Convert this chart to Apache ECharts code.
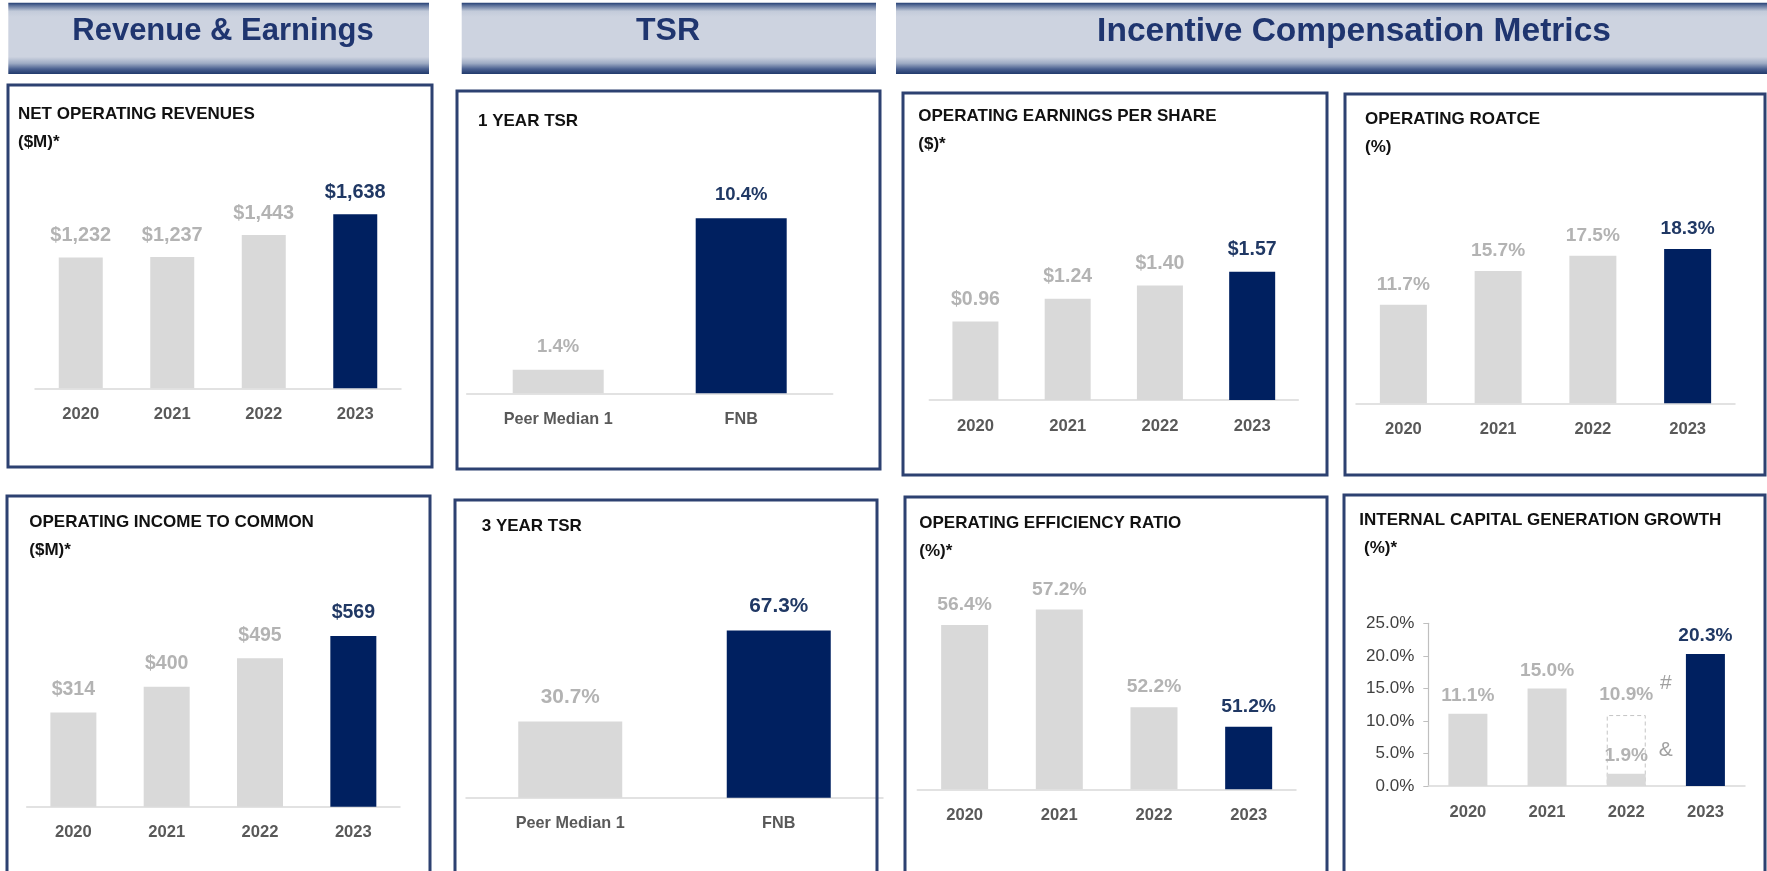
<!DOCTYPE html>
<html><head><meta charset="utf-8">
<script src="https://cdn.jsdelivr.net/npm/echarts@6/dist/echarts.min.js"></script>
<style>html,body{margin:0;padding:0;background:#fff}#c{width:1767px;height:871px}</style>
</head><body><div id="c"></div><script>
// ---------------- DATA ----------------
const years = ['2020', '2021', '2022', '2023'];
const tsrCategories = ['Peer Median 1', 'FNB'];
const netOperatingRevenues = [1232, 1237, 1443, 1638];
const operatingIncomeToCommon = [314, 400, 495, 569];
const tsr1Year = [1.4, 10.4];
const tsr3Year = [30.7, 67.3];
const operatingEps = [0.96, 1.24, 1.40, 1.57];
const operatingRoatce = [11.7, 15.7, 17.5, 18.3];
const operatingEfficiencyRatio = [56.4, 57.2, 52.2, 51.2];
const internalCapitalGrowth = [11.1, 15.0, 1.9, 20.3];
const internalCapitalGrowthReported = [null, null, 10.9, null];
const headerTexts = ['Revenue & Earnings', 'TSR', 'Incentive Compensation Metrics'];
const panelTitles = [
  'NET OPERATING REVENUES\n($M)*',
  '1 YEAR TSR',
  'OPERATING INCOME TO COMMON\n($M)*',
  '3 YEAR TSR',
  'OPERATING EARNINGS PER SHARE\n($)*',
  'OPERATING ROATCE\n(%)',
  'OPERATING EFFICIENCY RATIO\n(%)*',
  'INTERNAL CAPITAL GENERATION GROWTH\n (%)*'
];
const annotationMarks = ['#', '&'];

// ---------------- STYLE ----------------
function hasFont(name) {
  const c = document.createElement('canvas').getContext('2d');
  const s = 'abcdefghijklmnopqrstuvwxyzWM0123456789';
  c.font = '40px monospace'; const w0 = c.measureText(s).width;
  c.font = '40px "' + name + '", monospace'; const w1 = c.measureText(s).width;
  return Math.abs(w0 - w1) > 0.5;
}
const NARROW_OK = hasFont('Liberation Sans Narrow');
const NARROW = NARROW_OK ? 'Liberation Sans Narrow' : 'Liberation Sans';
const NS = NARROW_OK ? 1 : 0.83;
const SANS = 'Liberation Sans';
const NAVY = '#002060', GRAY = '#d9d9d9', NAVY_T = '#203864', GRAY_T = '#b3b3b3', AXIS_T = '#595959';

const fmtMoney0 = v => '$' + v.toLocaleString('en-US');
const fmtMoney2 = v => '$' + v.toFixed(2);
const fmtPct = v => v.toFixed(1) + '%';

const panels = [
  { cats: years, vals: netOperatingRevenues, hi: 3, fmt: fmtMoney0, grid: {left: 35, top: 175.9, width: 366, height: 212.4}, min: 0, max: 2000, bw: 44, ld: 11.5, lf: NARROW, ls: 24 * NS, xf: NARROW, xs: 20 * NS, title: {left: 18, top: 100} },
  { cats: tsrCategories, vals: tsr1Year, hi: 1, fmt: fmtPct, grid: {left: 466.7, top: 191.3, width: 366, height: 202}, min: 0, max: 12, bw: 91, ld: 13.5, lf: SANS, ls: 18.5, xf: SANS, xs: 16.2, title: {left: 478, top: 107.7} },
  { cats: years, vals: operatingIncomeToCommon, hi: 3, fmt: fmtMoney0, grid: {left: 26.7, top: 596.7, width: 373.3, height: 210}, min: 0, max: 700, bw: 46, ld: 13, lf: NARROW, ls: 23.5 * NS, xf: NARROW, xs: 20 * NS, title: {left: 29.3, top: 508.7} },
  { cats: tsrCategories, vals: tsr3Year, hi: 1, fmt: fmtPct, grid: {left: 466, top: 598.9, width: 417, height: 198.8}, min: 0, max: 80, bw: 104, ld: 14, lf: SANS, ls: 20.8, xf: SANS, xs: 16.2, title: {left: 481.7, top: 512.7} },
  { cats: years, vals: operatingEps, hi: 3, fmt: fmtMoney2, grid: {left: 929.3, top: 236.6, width: 369, height: 163.4}, min: 0, max: 2, bw: 46, ld: 12, lf: NARROW, ls: 23.5 * NS, xf: NARROW, xs: 20 * NS, title: {left: 918.3, top: 102.7} },
  { cats: years, vals: operatingRoatce, hi: 3, fmt: fmtPct, grid: {left: 1356, top: 234.7, width: 379, height: 168.6}, min: 0, max: 20, bw: 47, ld: 10.5, lf: NARROW, ls: 23 * NS, xf: NARROW, xs: 20 * NS, title: {left: 1365, top: 105.3} },
  { cats: years, vals: operatingEfficiencyRatio, hi: 3, fmt: fmtPct, grid: {left: 917.3, top: 593.8, width: 378.7, height: 195.5}, min: 48, max: 58, bw: 47, ld: 10.7, lf: NARROW, ls: 23.2 * NS, xf: NARROW, xs: 20 * NS, title: {left: 919.3, top: 509.3} },
  { cats: years, vals: internalCapitalGrowth, hi: 3, fmt: fmtPct, grid: {left: 1428.3, top: 623.3, width: 316.7, height: 162.7}, min: 0, max: 25, bw: 39, ld: 8.5, lf: NARROW, ls: 23 * NS, xf: NARROW, xs: 20 * NS, title: {left: 1359.3, top: 506}, yAxisShown: true }
];

const boxes = [
  [8, 85, 424, 382], [457, 91, 423, 378], [7, 496, 423, 420], [455, 500, 422, 420],
  [903, 93, 424, 382], [1345, 94, 420, 381], [905, 497, 422, 420], [1344, 495, 421, 420]
];
const headerBands = [[8.3, 2.7, 420.7, 71.3], [461.7, 2.7, 414.3, 71.3], [896, 2.7, 880, 71.3]];
const headerCenters = [[223, 31.5], [668, 31.5], [1354, 31.5]];
const headerSizes = [31, 32, 33.5];

// ---------------- BUILD ----------------
const grids = [], xAxes = [], yAxes = [], series = [], titles = [];
panels.forEach((p, i) => {
  grids.push(Object.assign({containLabel: false}, p.grid));
  xAxes.push({
    type: 'category', gridIndex: i, data: p.cats,
    axisLine: {show: true, onZero: false, lineStyle: {color: '#d9d9d9', width: 1.5}},
    axisTick: {show: false},
    axisLabel: {margin: 26 - p.xs / 2, color: AXIS_T, fontFamily: p.xf, fontWeight: 'bold', fontSize: p.xs, interval: 0}
  });
  const y = {type: 'value', gridIndex: i, min: p.min, max: p.max, splitLine: {show: false}};
  if (p.yAxisShown) {
    Object.assign(y, {
      interval: 5, show: true,
      axisLine: {show: true, onZero: false, lineStyle: {color: '#bfbfbf', width: 1.2}},
      axisTick: {show: true, length: 5, lineStyle: {color: '#bfbfbf'}},
      axisLabel: {show: true, margin: 14, formatter: v => v.toFixed(1) + '%', color: '#404040', fontFamily: SANS, fontSize: 17}
    });
  } else {
    y.show = false;
  }
  yAxes.push(y);
  if (i === 7) {
    series.push({
      type: 'bar', xAxisIndex: i, yAxisIndex: i, barWidth: p.bw, barGap: '-100%', silent: true,
      data: internalCapitalGrowthReported,
      itemStyle: {color: 'rgba(0,0,0,0)', borderColor: '#c4c4c4', borderWidth: 1, borderType: [4, 3]},
      label: {show: true, position: 'top', distance: 11, formatter: q => fmtPct(q.value), color: GRAY_T, fontFamily: p.lf, fontWeight: 'bold', fontSize: p.ls}
    });
  }
  series.push({
    type: 'bar', xAxisIndex: i, yAxisIndex: i, barWidth: p.bw, barGap: '-100%', silent: true, clip: true,
    data: p.vals.map((v, j) => ({
      value: v,
      itemStyle: {color: j === p.hi ? NAVY : GRAY},
      label: {color: j === p.hi ? NAVY_T : GRAY_T}
    })),
    label: {show: true, position: 'top', distance: p.ld, formatter: q => p.fmt(q.value), fontFamily: p.lf, fontWeight: 'bold', fontSize: p.ls}
  });
  titles.push({
    text: panelTitles[i], left: p.title.left, top: p.title.top, padding: 0,
    textStyle: {fontSize: 17, fontWeight: 'bold', fontFamily: SANS, color: '#111111', lineHeight: 28}
  });
});

const bandFill = new echarts.graphic.LinearGradient(0, 0, 0, 1, [
  {offset: 0, color: '#243f74'}, {offset: 0.04, color: '#5d729b'}, {offset: 0.12, color: '#c3cbda'},
  {offset: 0.2, color: '#cdd3e0'}, {offset: 0.76, color: '#cdd3e0'}, {offset: 0.85, color: '#9eabc4'},
  {offset: 0.93, color: '#4a6090'}, {offset: 1, color: '#213a6c'}
]);
const graphics = [];
headerBands.forEach((b, i) => {
  graphics.push({type: 'rect', shape: {x: b[0], y: b[1], width: b[2], height: b[3]}, style: {fill: bandFill}, z: 1, silent: true});
  graphics.push({type: 'text', x: headerCenters[i][0], y: headerCenters[i][1], z: 2, silent: true,
    style: {text: headerTexts[i], font: 'bold ' + headerSizes[i] + 'px "Liberation Sans"', fill: '#1f356f', align: 'center', verticalAlign: 'middle'}});
});
boxes.forEach(b => {
  graphics.push({type: 'rect', shape: {x: b[0], y: b[1], width: b[2], height: b[3]}, style: {fill: null, stroke: '#2d4171', lineWidth: 3}, z: 1, silent: true});
});

const option = {
  animation: false, backgroundColor: '#ffffff',
  title: titles, grid: grids, xAxis: xAxes, yAxis: yAxes, series: series, graphic: graphics
};
const chart = echarts.init(document.getElementById('c'), null, {renderer: 'canvas'});
chart.setOption(option);

// annotation marks next to the 2022 internal-capital bar, anchored through the chart's own scale
const pTop = chart.convertToPixel({gridIndex: 7}, [2, internalCapitalGrowthReported[2]]);
const pLow = chart.convertToPixel({gridIndex: 7}, [2, internalCapitalGrowth[2]]);
[[pTop, -32], [pLow, -23.6]].forEach((a, k) => {
  graphics.push({type: 'text', x: a[0][0] + 39.5, y: a[0][1] + a[1], z: 3, silent: true,
    style: {text: annotationMarks[k], font: '21px "Liberation Sans"', fill: '#a0a0a0', align: 'center', verticalAlign: 'middle'}});
});
option.graphic = graphics;
chart.setOption(option, true);
</script></body></html>
